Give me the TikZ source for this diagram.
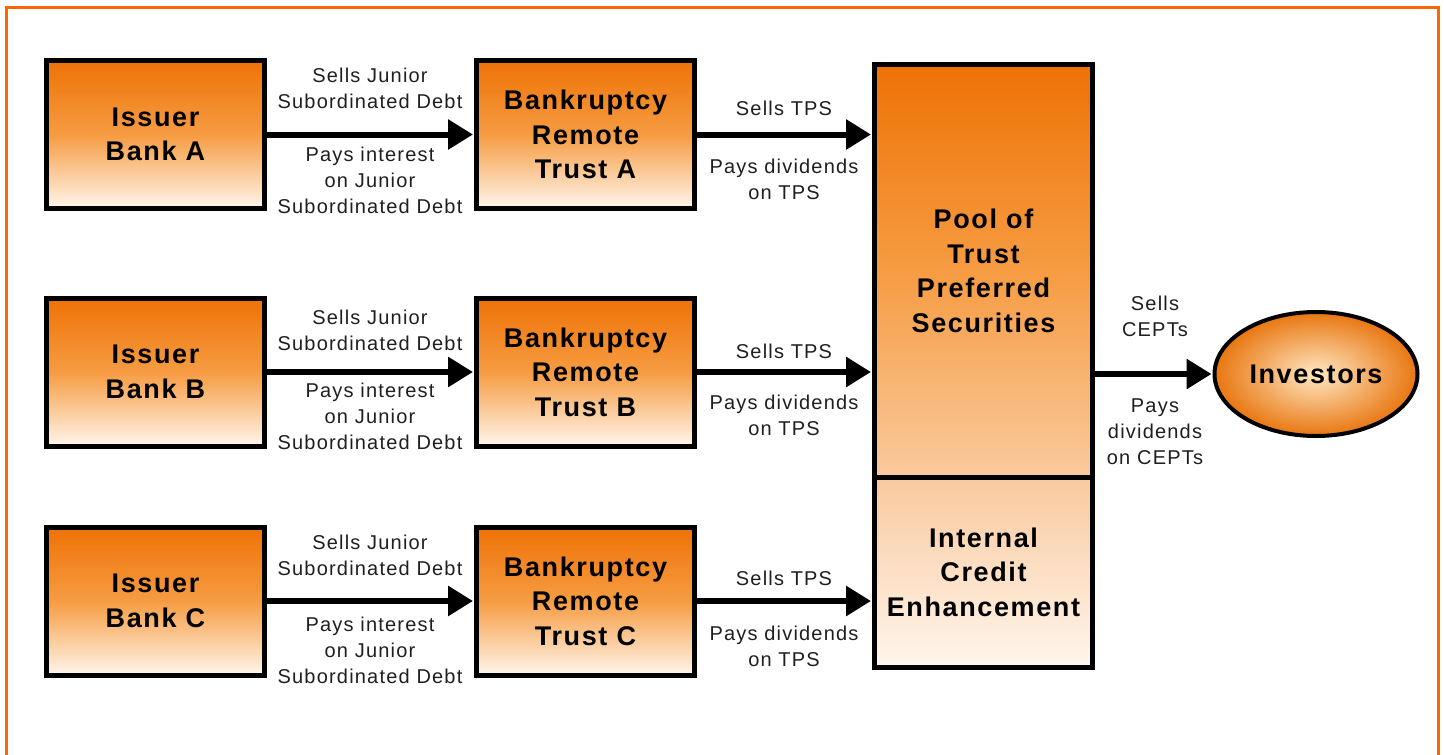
\documentclass[tikz,border=0pt]{standalone}
\usepackage{fontspec}
\setmainfont{Liberation Sans}
\newfontfamily\labfont[LetterSpace=6]{Liberation Sans}
\usetikzlibrary{arrows.meta,shapes.geometric}
\definecolor{otop}{RGB}{238,114,6}
\definecolor{omidc}{RGB}{246,156,66}
\definecolor{obot}{RGB}{255,246,236}
\definecolor{frame}{RGB}{255,102,0}
\definecolor{ocenter}{RGB}{255,232,196}
\definecolor{oedge}{RGB}{232,118,16}
\colorlet{pooldiv}{obot!66!otop}
\tikzset{
  box/.style={draw=black, line width=5pt, minimum width=218pt, minimum height=148pt,
    top color=otop, bottom color=obot, middle color=omidc, inner sep=0pt,
    align=center, font=\labfont\fontsize{27}{34.5}\selectfont\bfseries},
  lab/.style={align=center, inner sep=0pt, text=black!88,
    font=\labfont\fontsize{20}{26}\selectfont},
  arr/.style={line width=6pt, -{Triangle[length=25pt,width=29pt]}, shorten >=1pt},
}
\begin{document}
\begin{tikzpicture}[x=1pt,y=-1pt]
\useasboundingbox (0,0) rectangle (1444,755);
\draw[frame, line width=2.6pt] (6.5,800) -- (6.5,7.5) -- (1438.5,7.5) -- (1438.5,800);

% issuer banks
\node[box] (bankA) at (155.5,134.5) {Issuer\\Bank A};
\node[box] (bankB) at (155.5,372) {Issuer\\Bank B};
\node[box] (bankC) at (155.5,601) {Issuer\\Bank C};
% trusts
\node[box] (trustA) at (585.5,134.5) {Bankruptcy\\Remote\\Trust A};
\node[box] (trustB) at (585.5,372) {Bankruptcy\\Remote\\Trust B};
\node[box] (trustC) at (585.5,601) {Bankruptcy\\Remote\\Trust C};
% pool
\node[box, minimum width=218pt, minimum height=412.5pt, top color=otop, bottom color=pooldiv,
  middle color=omidc] (pool) at (983.5,270.75) {Pool of\\Trust\\Preferred\\Securities};
\node[box, minimum width=218pt, minimum height=190.5pt, top color=pooldiv, bottom color=obot,
  middle color=pooldiv!50!obot] (credit) at (983.5,572.25) {Internal\\Credit\\Enhancement};
% investors
\node[ellipse, draw=black, line width=4pt, minimum width=203pt, minimum height=124pt,
  inner color=ocenter, outer color=oedge, inner sep=0pt,
  font=\labfont\fontsize{27}{34.5}\selectfont\bfseries] (inv) at (1316,374) {Investors};

% arrows
\draw[arr] (bankA.east) -- (trustA.west);
\draw[arr] (bankB.east) -- (trustB.west);
\draw[arr] (bankC.east) -- (trustC.west);
\draw[arr] (trustA.east) -- (trustA.east -| pool.west);
\draw[arr] (trustB.east) -- (trustB.east -| pool.west);
\draw[arr] (trustC.east) -- (trustC.east -| credit.west);
\draw[arr] (pool.east |- inv.west) -- (inv.west);

% labels
\node[lab] (sA) at (370,88) {Sells Junior\\Subordinated Debt};
\node[lab] (pA) at (370,180) {Pays interest\\on Junior\\Subordinated Debt};
\node[lab] (sB) at (370,330) {Sells Junior\\Subordinated Debt};
\node[lab] (pB) at (370,416) {Pays interest\\on Junior\\Subordinated Debt};
\node[lab] (sC) at (370,555) {Sells Junior\\Subordinated Debt};
\node[lab] (pC) at (370,650) {Pays interest\\on Junior\\Subordinated Debt};

\node[lab] (tA) at (784,108) {Sells TPS};
\node[lab] (dA) at (784,179.5) {Pays dividends\\on TPS};
\node[lab] (tB) at (784,351) {Sells TPS};
\node[lab] (dB) at (784,415.5) {Pays dividends\\on TPS};
\node[lab] (tC) at (784,578) {Sells TPS};
\node[lab] (dC) at (784,646.5) {Pays dividends\\on TPS};

\node[lab] (sI) at (1155,316.5) {Sells\\CEPTs};
\node[lab] (dI) at (1155,432) {Pays\\dividends\\on CEPTs};
\end{tikzpicture}
\end{document}
